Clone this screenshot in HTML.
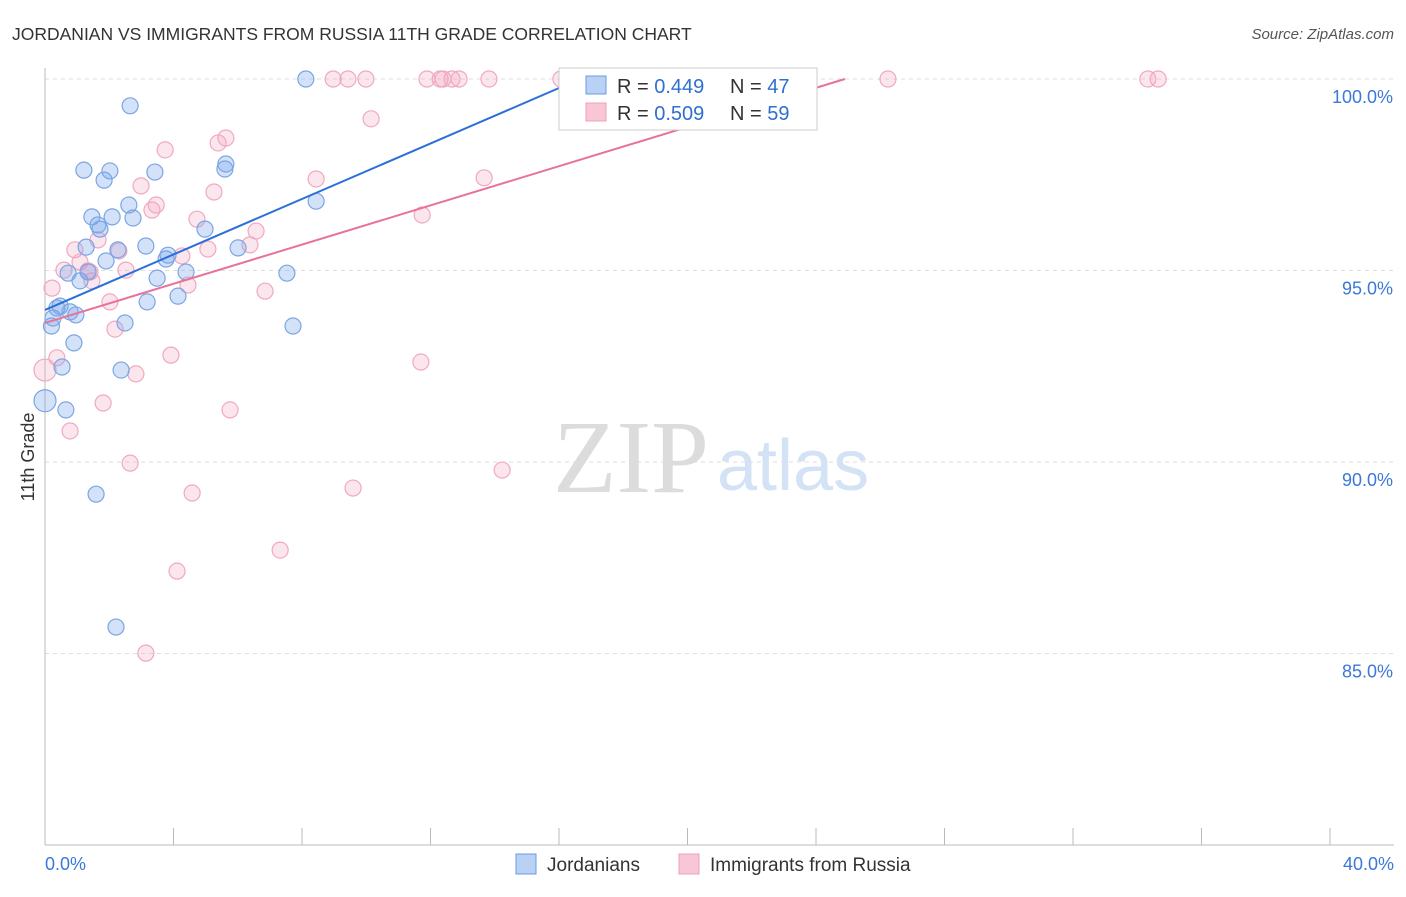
<!DOCTYPE html>
<html><head><meta charset="utf-8"><style>
body{margin:0;background:#fff;font-family:"Liberation Sans",sans-serif;}
</style></head><body>
<svg id="chart" width="1406" height="892" font-family="Liberation Sans, sans-serif">
<text x="12" y="40" font-size="17.5" fill="#333">JORDANIAN VS IMMIGRANTS FROM RUSSIA 11TH GRADE CORRELATION CHART</text>
<text x="1394" y="39" font-size="15" fill="#555" font-style="italic" text-anchor="end">Source: ZipAtlas.com</text>
<text transform="translate(34,457) rotate(-90)" font-size="18" fill="#333" text-anchor="middle">11th Grade</text>
<g id="grid"></g>
<text x="553" y="492" font-size="104" fill="#dcdcdc" style="font-family:'Liberation Serif',serif">ZIP</text>
<text x="717" y="490" font-size="72" fill="#d3e2f5">atlas</text>
<g id="marks"></g>
<g>
<rect x="559" y="68" width="258" height="62" fill="#fff" stroke="#ccc"/>
<rect x="586" y="76" width="20" height="18" fill="#b8d1f5" stroke="#6a9be0"/>
<text x="617" y="93" font-size="20" fill="#333">R = <tspan fill="#2f6fd0">0.449</tspan></text>
<text x="730" y="93" font-size="20" fill="#333">N = <tspan fill="#2f6fd0">47</tspan></text>
<rect x="586" y="103" width="20" height="18" fill="#f8c6d5" stroke="#eea0b8"/>
<text x="617" y="120" font-size="20" fill="#333">R = <tspan fill="#2f6fd0">0.509</tspan></text>
<text x="730" y="120" font-size="20" fill="#333">N = <tspan fill="#2f6fd0">59</tspan></text>
</g>
<g>
<rect x="516" y="854" width="20" height="20" fill="#b8d1f5" stroke="#6a9be0"/>
<text x="547" y="871" font-size="19" fill="#333">Jordanians</text>
<rect x="679" y="854" width="20" height="20" fill="#f8c6d5" stroke="#eea0b8"/>
<text x="710" y="871" font-size="19" fill="#333">Immigrants from Russia</text>
</g>
</svg>
<script>
const yTicks=[100,95,90,85];
const yTickLabels=["100.0%","95.0%","90.0%","85.0%"];
const xLabels=["0.0%","40.0%"];
const blueX=[0,0.2,0.25,0.37,0.47,0.53,0.65,0.72,0.78,0.9,0.96,1.09,1.21,1.28,1.34,1.46,1.59,1.65,1.71,1.84,1.9,2.02,2.09,2.21,2.27,2.37,2.49,2.61,2.65,2.74,3.14,3.18,3.42,3.49,3.77,3.83,4.14,4.39,4.98,5.6,5.63,6.01,7.53,7.72,8.12,8.44,18.52];
const blueY=[91.6,93.55,93.76,94.02,94.07,92.48,91.36,94.93,93.92,93.11,93.84,94.73,97.62,95.61,94.96,96.4,89.16,96.19,96.08,97.36,95.25,97.6,96.4,85.69,95.54,92.4,93.63,96.71,99.3,96.37,95.64,94.18,97.57,94.8,95.3,95.4,94.33,94.96,96.08,97.65,97.78,95.59,94.93,93.55,100,96.81,100];
const pinkX=[0,0.22,0.37,0.59,0.78,0.93,1.09,1.34,1.46,1.65,1.81,2.02,2.18,2.3,2.52,2.65,2.83,2.99,3.33,3.46,3.74,3.92,4.11,4.26,4.45,4.58,4.73,5.07,5.26,5.39,5.63,5.76,6.38,6.57,6.85,7.32,8.44,8.97,9.43,9.59,9.99,10.15,11.7,11.74,11.89,12.3,12.39,12.67,12.89,13.67,13.82,14.23,16.06,21.04,26.24,34.33,34.65,3.14,1.4];
const pinkY=[92.4,94.54,92.72,95.01,90.81,95.54,95.22,94.99,94.73,95.8,91.54,94.18,93.47,95.51,95.01,89.97,92.3,97.21,96.58,96.71,98.15,92.79,87.15,95.38,94.62,89.19,96.34,95.56,97.05,98.33,98.46,91.36,95.67,96.03,94.46,87.7,97.39,100,100,89.32,100,98.96,92.61,96.45,100,100,100,100,100,97.42,100,89.79,100,100,100,100,100,85.01,94.96];
const blueLine=[[0,93.97],[16.65,100]];
const pinkLine=[[0,93.63],[24.9,100]];
const X=v=>45+v*32.125, Y=v=>79+(100-v)*38.3;
const NS="http://www.w3.org/2000/svg";
const grid=document.getElementById('grid'), marks=document.getElementById('marks');
function mk(tag,attrs,parent){const e=document.createElementNS(NS,tag);for(const k in attrs)e.setAttribute(k,attrs[k]);parent.appendChild(e);return e;}
yTicks.forEach((t,i)=>{
 const l=mk('line',{x1:45,x2:1394,y1:Y(t),y2:Y(t),stroke:'#ddd','stroke-dasharray':'4,4'},grid);
 
 
 const tx=mk('text',{x:1393,y:Y(t)+24,'font-size':18,fill:'#3b78d8','text-anchor':'end'},grid);
 tx.textContent=yTickLabels[i];
 
 
});
const ax=mk('line',{x1:45,x2:45,y1:68,y2:845,stroke:'#bbb'},grid);


const bx=mk('line',{x1:45,x2:1394,y1:845,y2:845,stroke:'#bbb'},grid);


for(let v=0;v<=40;v+=4){
 const t=mk('line',{x1:X(v),x2:X(v),y1:828,y2:845,stroke:'#bbb'},grid);
 
 
}
[[0,'start',45],[40,'end',1394]].forEach((d,i)=>{
 const tx=mk('text',{x:d[2],y:870,'font-size':18,fill:'#3b78d8','text-anchor':d[1]},grid);
 tx.textContent=xLabels[i];
 
 
});
function pts(xs,ys,fill,stroke,name){
 xs.forEach((x,i)=>{
  const c=mk('circle',{cx:X(x),cy:Y(ys[i]),r:(x===0?11:8),fill:fill,stroke:stroke,'stroke-width':1.2},marks);
  
  
 });
}
pts(pinkX,pinkY,'rgba(244,165,195,0.28)','#f0a8c0','russia-point');
pts(blueX,blueY,'rgba(120,165,235,0.32)','#7aa6e3','jordanian-point');
const bl=mk('line',{x1:X(blueLine[0][0]),y1:Y(blueLine[0][1]),x2:X(blueLine[1][0]),y2:Y(blueLine[1][1]),stroke:'#2a70d8','stroke-width':2},marks);


const pl=mk('line',{x1:X(pinkLine[0][0]),y1:Y(pinkLine[0][1]),x2:X(pinkLine[1][0]),y2:Y(pinkLine[1][1]),stroke:'#e8729a','stroke-width':2},marks);


</script>
</body></html>
